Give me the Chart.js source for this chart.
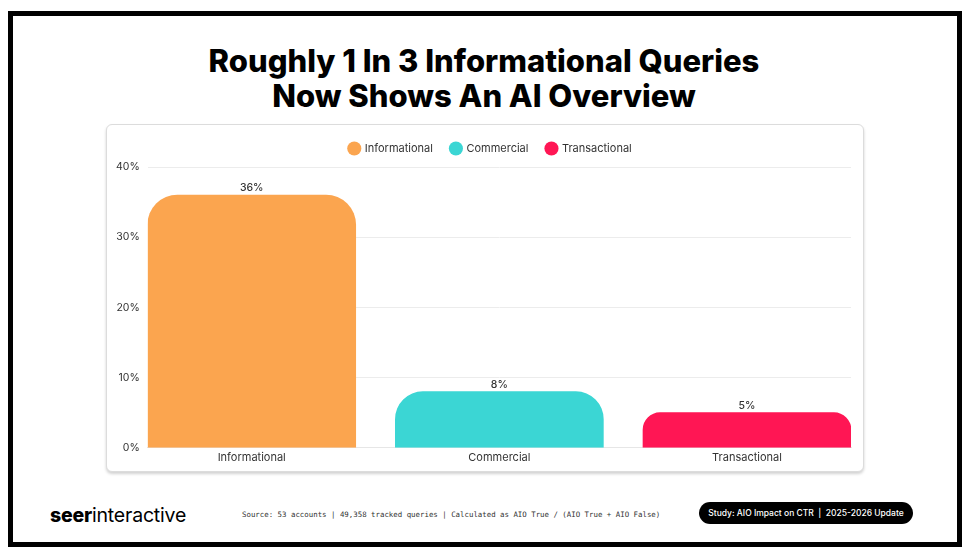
<!DOCTYPE html>
<html>
<head>
<meta charset="utf-8">
<script src="https://cdn.jsdelivr.net/npm/chart.js@4.4.0/dist/chart.umd.min.js"></script>
<style>
  html, body { margin: 0; padding: 0; background: #fff; }
  body { width: 968px; height: 553px; position: relative; overflow: hidden; font-family: Inter, "Open Sans", sans-serif; }
  .marco { position: absolute; left: 8px; top: 11px; width: 944px; height: 526px; border: 5px solid #000; }
  .titulo { position: absolute; left: 0; top: 43px; width: 968px; text-align: center; font-weight: 800; font-size: 31px; line-height: 35px; color: #000; letter-spacing: 0; }
  .tarjeta { position: absolute; left: 106px; top: 124px; width: 756px; height: 346px; border: 1px solid #dcdcdc; border-radius: 6px; box-shadow: 0 2px 3px rgba(0,0,0,0.18); background: #fff; }
  .tarjeta canvas { position: absolute; left: 0; top: 0; }
  .logo { position: absolute; left: 50px; top: 503px; font-size: 19.5px; color: #000; letter-spacing: -0.2px; }
  .logo b { font-weight: 800; }
  .fuente { position: absolute; left: 242px; top: 510px; font-family: "DejaVu Sans Mono", monospace; font-size: 7.4px; color: #333; }
  .pastilla { position: absolute; left: 699px; top: 502px; width: 214px; height: 22px; background: #000; border-radius: 11px; color: #fff; font-size: 8.5px; line-height: 22px; text-align: center; font-weight: 500; }
</style>
</head>
<body>
<div class="marco"></div>
<div class="titulo">Roughly 1 In 3 Informational Queries<br>Now Shows An AI Overview</div>
<div class="tarjeta"><canvas id="grafica" width="756" height="346"></canvas></div>
<div class="logo"><b>seer</b>interactive</div>
<div class="fuente">Source: 53 accounts | 49,358 tracked queries | Calculated as AIO True / (AIO True + AIO False)</div>
<div class="pastilla">Study: AIO Impact on CTR &nbsp;| &nbsp;2025-2026 Update</div>

<script>
// Datos del gráfico
const categorias = ["Informational", "Commercial", "Transactional"];
const valores = [36, 8, 5];
const colores = ["#FBA54F", "#3BD6D4", "#FF1654"];
const ticksY = [0, 10, 20, 30, 40];

// Un dataset por categoría para que aparezca en la leyenda
const datasets = categorias.map((nombre, i) => ({
    label: nombre,
    data: [{ x: i, y: valores[i] }],
    backgroundColor: colores[i],
    borderRadius: { topLeft: 30, topRight: 30 },
    borderSkipped: "bottom",
    barThickness: 208
}));

// Etiquetas de valor encima de cada barra
const etiquetasValor = {
    id: "etiquetasValor",
    afterDatasetsDraw(chart) {
        const ctx = chart.ctx;
        ctx.save();
        ctx.font = "500 10.5px Inter, sans-serif";
        ctx.fillStyle = "#333";
        ctx.textAlign = "center";
        ctx.textBaseline = "bottom";
        chart.data.datasets.forEach((ds, i) => {
            chart.getDatasetMeta(i).data.forEach((bar, j) => {
                ctx.fillText(ds.data[j].y + "%", bar.x, bar.y - 2);
            });
        });
        ctx.restore();
    }
};

// Un poco más de espacio debajo de la leyenda, y leyenda algo a la derecha
const margenLeyenda = {
    id: "margenLeyenda",
    beforeInit(chart) {
        const fitOriginal = chart.legend.fit;
        chart.legend.fit = function () {
            fitOriginal.bind(chart.legend)();
            this.height += 3;
        };
    },
    afterLayout(chart) {
        chart.legend.left += 11;
        chart.legend.right += 11;
    }
};

new Chart(document.getElementById("grafica").getContext("2d"), {
    type: "bar",
    data: { datasets: datasets },
    plugins: [etiquetasValor, margenLeyenda],
    options: {
        responsive: false,
        animation: false,
        skipNull: true,
        layout: { padding: { left: 1, right: 12, top: 0, bottom: 4 } },
        plugins: {
            legend: {
                display: true,
                position: "top",
                labels: {
                    usePointStyle: true,
                    pointStyle: "circle",
                    boxWidth: 10,
                    boxHeight: 10,
                    padding: 18,
                    color: "#333",
                    font: { family: "Inter", size: 11 }
                }
            },
            tooltip: { enabled: false }
        },
        scales: {
            x: {
                type: "linear",
                offset: false,
                min: -0.42,
                max: 2.42,
                afterBuildTicks(axis) { axis.ticks = categorias.map((c, i) => ({ value: i })); },
                grid: { display: false, drawTicks: false, tickLength: 0 },
                border: { color: "#e6e6e6" },
                ticks: { color: "#333", font: { family: "Inter", size: 11 }, padding: 3, callback: v => categorias[v] }
            },
            y: {
                min: 0,
                max: 40,
                afterBuildTicks(axis) { axis.ticks = ticksY.map(v => ({ value: v })); },
                grid: { color: "#ececec", drawTicks: false },
                border: { display: false },
                ticks: { color: "#333", font: { family: "Inter", size: 10.5 }, padding: 8, callback: v => v + "%" }
            }
        }
    }
});
</script>
</body>
</html>
